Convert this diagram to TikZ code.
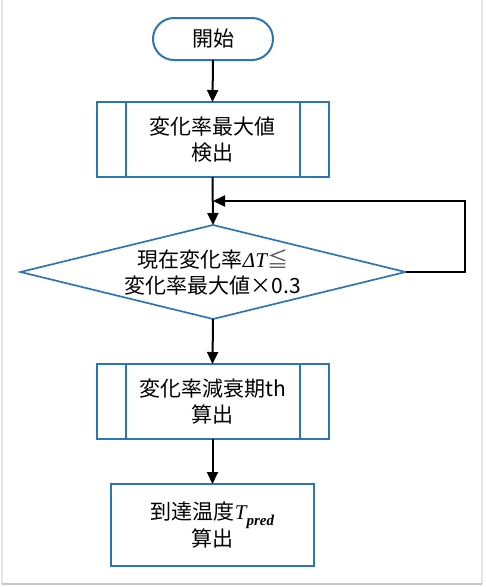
\documentclass[tikz,border=0pt]{standalone}
\usepackage{fontspec}
\setmainfont{Noto Sans CJK JP}
\newfontfamily\serif{Liberation Serif}
\usetikzlibrary{arrows.meta,shapes.geometric}
\definecolor{fblue}{HTML}{2E75B6}
\tikzset{
  base/.style={draw=fblue, line width=2pt, fill=white, align=center,
    font=\fontsize{21}{26}\selectfont, inner sep=0pt, outer sep=0pt},
  term/.style={base, rounded corners=21pt, minimum width=120pt, minimum height=42pt},
  proc/.style={base, minimum width=232pt, minimum height=75pt},
  plainbox/.style={base, minimum width=203pt, minimum height=82pt},
  decision/.style={diamond, aspect=4, draw=fblue, line width=1.7pt, minimum width=385pt,
    minimum height=94pt, inner sep=0pt, outer sep=0pt},
  txt/.style={align=center, font=\fontsize{21}{26}\selectfont, inner sep=0pt},
  arr/.style={line width=2pt, -{Triangle[width=11pt,length=12pt]}},
  inner/.style={draw=fblue, line width=2pt},
  frame/.style={line width=1.5pt}
}
\begin{document}
\begin{tikzpicture}[x=1pt,y=-1pt]
\useasboundingbox (0,0) rectangle (486,587);
\draw[frame, gray!20] (2,0) -- (2,584);
\draw[frame, gray!20] (482,0) -- (482,584);
\draw[frame, gray!45] (2,584) -- (482,584);

\node[term] (start) at (213,39) {開始};
\node[proc] (b1) at (212.5,139.5) {変化率最大値\\検出};
\draw[inner] ([xshift=29pt]b1.north west) -- ([xshift=29pt]b1.south west);
\draw[inner] ([xshift=-29pt]b1.north east) -- ([xshift=-29pt]b1.south east);

\node[decision] (dec) at (213,272) {};
\node[txt] (dect) at (213,272) {現在変化率{\serif\itshape ΔT}{\color{black!65}≦}\\変化率最大値×0.3};

\node[proc] (b2) at (212.5,401.5) {変化率減衰期th\\算出};
\draw[inner] ([xshift=29pt]b2.north west) -- ([xshift=29pt]b2.south west);
\draw[inner] ([xshift=-29pt]b2.north east) -- ([xshift=-29pt]b2.south east);

\node[plainbox] (b3) at (212.5,525) {到達温度{\serif\itshape T\raisebox{-6pt}{\bfseries\fontsize{15}{15}\selectfont pred}}\\算出};

\coordinate (lpc) at (465,201);
\coordinate (lpin) at (213,201);

\draw[arr] (start.south) -- (b1.north);
\draw[arr] (b1.south) -- (dec.north);
\draw[arr] (dec.south) -- (b2.north);
\draw[arr] (b2.south) -- (b3.north);
\draw[arr] (dec.east) -| (lpc) -- (lpin);
\end{tikzpicture}
\end{document}
